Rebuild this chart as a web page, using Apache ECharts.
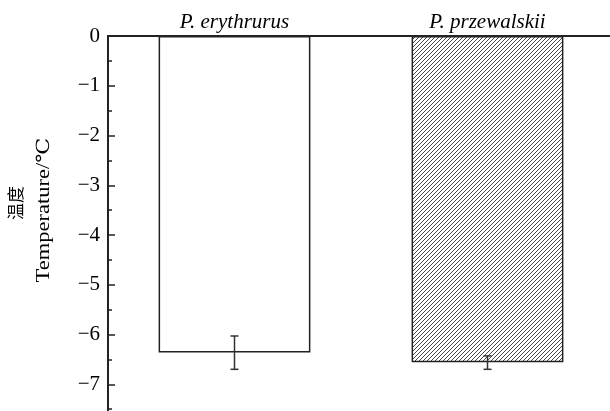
<!DOCTYPE html>
<html><head><meta charset="utf-8">
<script src="https://cdn.jsdelivr.net/npm/echarts@6/dist/echarts.min.js"></script>
<style>html,body{margin:0;padding:0;background:#fff}#c{width:610px;height:411px}</style>
</head><body><div id="c"></div>
<script>
const categories = ['P. erythrurus', 'P. przewalskii'];
const meanValues = [-6.36, -6.56];
const errLow = [-6.70, -6.70];
const errHigh = [-6.03, -6.43];

const pc = document.createElement('canvas');
pc.width = 4; pc.height = 4;
const g = pc.getContext('2d');
g.fillStyle = '#fff'; g.fillRect(0, 0, 4, 4);
g.strokeStyle = '#333'; g.lineWidth = 0.9;
g.beginPath();
g.moveTo(0, 4); g.lineTo(4, 0);
g.moveTo(-1, 1); g.lineTo(1, -1);
g.moveTo(3, 5); g.lineTo(5, 3);
g.stroke();

const serif = '"Liberation Serif", "Times New Roman", serif';
const chart = echarts.init(document.getElementById('c'), null, {renderer: 'canvas'});
chart.setOption({
  animation: false,
  backgroundColor: '#fff',
  grid: {left: 108, top: 36, right: -4, bottom: -23, outerBoundsMode: 'none', containLabel: false},
  xAxis: {
    type: 'category', position: 'top', data: categories,
    axisLine: {lineStyle: {color: '#222', width: 2}},
    axisTick: {show: true, inside: true, alignWithLabel: true, length: 4, lineStyle: {color: '#222', width: 1}},
    axisLabel: {fontStyle: 'italic', fontFamily: serif, fontSize: 21, color: '#000', margin: 3},
    splitLine: {show: false}
  },
  yAxis: {
    type: 'value', min: -8, max: 0, interval: 1,
    axisLine: {show: true, lineStyle: {color: '#222', width: 2}},
    axisTick: {show: true, inside: true, length: 7, lineStyle: {color: '#222', width: 1.5}},
    minorTick: {show: true, splitNumber: 2, length: 4, lineStyle: {color: '#222', width: 1.5}},
    splitLine: {show: false},
    axisLabel: {fontFamily: serif, fontSize: 21, color: '#000', margin: 8,
      formatter: v => v < 0 ? '\u2212' + (-v) : String(v)}
  },
  graphic: [{
    type: 'text', x: 16, y: 203, rotation: Math.PI / 2,
    style: {text: '温度', align: 'center', verticalAlign: 'middle',
      fontSize: 17, fontFamily: '"Noto Sans CJK SC"', fill: '#000'}
  }, {
    type: 'text', x: 44, y: 210, rotation: Math.PI / 2, scaleX: 1.25,
    style: {text: 'Temperature/℃', align: 'center', verticalAlign: 'middle',
      fontSize: 18, fontFamily: '"Liberation Serif", "DejaVu Serif", serif', fill: '#000'}
  }],
  series: [{
    type: 'bar', barWidth: '60%',
    data: meanValues.map((v, i) => ({
      value: v,
      itemStyle: i === 0
        ? {color: '#fff', borderColor: '#222', borderWidth: 1.5}
        : {color: {image: pc, repeat: 'repeat'}, borderColor: '#222', borderWidth: 1.5}
    }))
  }, {
    type: 'custom', z: 5,
    data: categories.map((c, i) => [i, errLow[i], errHigh[i]]),
    renderItem: (params, api) => {
      const lo = api.coord([api.value(0), api.value(1)]);
      const hi = api.coord([api.value(0), api.value(2)]);
      const w = 4;
      const st = {stroke: '#333', lineWidth: 1.5};
      return {type: 'group', children: [
        {type: 'line', shape: {x1: lo[0], y1: lo[1], x2: hi[0], y2: hi[1]}, style: st},
        {type: 'line', shape: {x1: lo[0] - w, y1: lo[1], x2: lo[0] + w, y2: lo[1]}, style: st},
        {type: 'line', shape: {x1: hi[0] - w, y1: hi[1], x2: hi[0] + w, y2: hi[1]}, style: st}
      ]};
    }
  }]
});
</script></body></html>
